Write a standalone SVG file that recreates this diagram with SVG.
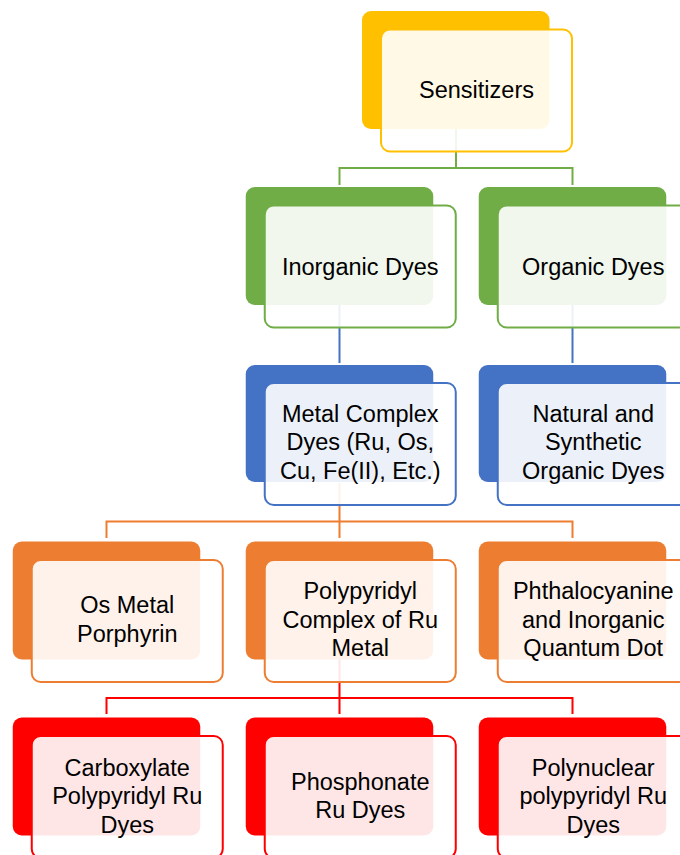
<svg xmlns="http://www.w3.org/2000/svg" width="680" height="855" viewBox="0 0 680 855">
<style>
.back{stroke:none}
.front{fill:#fff;fill-opacity:0.9;stroke-width:2}
.y .back{fill:#FFC000}.y .front{stroke:#FFC000}
.g .back{fill:#70AD47}.g .front{stroke:#70AD47}
.b .back{fill:#4472C4}.b .front{stroke:#4472C4}
.o .back{fill:#ED7D31}.o .front{stroke:#ED7D31}
.r .back{fill:#FF0000}.r .front{stroke:#FF0000}
text{font-family:"Liberation Sans",Arial,sans-serif;font-size:23.5px;fill:#000;text-anchor:middle}
.c{fill:none;stroke-width:2}
</style>
<rect width="680" height="855" fill="#fff"/>
<g id="connectors">
<path class="c" stroke="#70AD47" d="M456 129V168M339.5 168H572.5M339.5 167V185M572.5 167V185"/>
<path class="c" stroke="#4472C4" d="M339.5 305V363M572.5 305V363"/>
<path class="c" stroke="#ED7D31" d="M339.5 483V521.5M106.5 521.5H572.5M106.5 520.5V538M339.5 520.5V538M572.5 520.5V538"/>
<path class="c" stroke="#FF0000" stroke-width="2.5" d="M339.5 659V698M106.5 698H572.5M106.5 697V714M339.5 697V714M572.5 697V714"/>
</g>
<g id="sensitizers" class="y">
<rect class="back" x="362" y="11" width="187.5" height="118" rx="9"/>
<rect class="front" x="381" y="29.5" width="191" height="122" rx="9"/>
<text x="476.5" y="98">Sensitizers</text>
</g>
<g id="inorganic" class="g">
<rect class="back" x="245.75" y="187" width="187.5" height="118" rx="9"/>
<rect class="front" x="264.75" y="205.5" width="191" height="122" rx="9"/>
<text x="360.25" y="275">Inorganic Dyes</text>
</g>
<g id="organic" class="g">
<rect class="back" x="478.75" y="187" width="187.5" height="118" rx="9"/>
<rect class="front" x="497.75" y="205.5" width="191" height="122" rx="9"/>
<text x="593.25" y="275">Organic Dyes</text>
</g>
<g id="metal-complex" class="b">
<rect class="back" x="245.75" y="365" width="187.5" height="117" rx="9"/>
<rect class="front" x="264.75" y="383" width="191" height="122" rx="9"/>
<text x="360.25" y="421.5">Metal Complex</text>
<text x="360.25" y="450">Dyes (Ru, Os,</text>
<text x="360.25" y="478.5">Cu, Fe(II), Etc.)</text>
</g>
<g id="natural-synthetic" class="b">
<rect class="back" x="478.75" y="365" width="187.5" height="117" rx="9"/>
<rect class="front" x="497.75" y="383" width="191" height="122" rx="9"/>
<text x="593.25" y="421.5">Natural and</text>
<text x="593.25" y="450">Synthetic</text>
<text x="593.25" y="478.5">Organic Dyes</text>
</g>
<g id="os-porphyrin" class="o">
<rect class="back" x="12.75" y="541.5" width="187.5" height="118" rx="9"/>
<rect class="front" x="31.75" y="560" width="191" height="122" rx="9"/>
<text x="127.25" y="613">Os Metal</text>
<text x="127.25" y="641.5">Porphyrin</text>
</g>
<g id="polypyridyl-ru" class="o">
<rect class="back" x="245.75" y="541.5" width="187.5" height="118" rx="9"/>
<rect class="front" x="264.75" y="560" width="191" height="122" rx="9"/>
<text x="360.25" y="599">Polypyridyl</text>
<text x="360.25" y="627.5">Complex of Ru</text>
<text x="360.25" y="656">Metal</text>
</g>
<g id="phthalocyanine" class="o">
<rect class="back" x="478.75" y="541.5" width="187.5" height="118" rx="9"/>
<rect class="front" x="497.75" y="560" width="191" height="122" rx="9"/>
<text x="593.25" y="599">Phthalocyanine</text>
<text x="593.25" y="627.5">and Inorganic</text>
<text x="593.25" y="656">Quantum Dot</text>
</g>
<g id="carboxylate" class="r">
<rect class="back" x="12.75" y="717.5" width="187.5" height="118" rx="9"/>
<rect class="front" x="31.75" y="736" width="191" height="122" rx="9"/>
<text x="127.25" y="775.5">Carboxylate</text>
<text x="127.25" y="804">Polypyridyl Ru</text>
<text x="127.25" y="832.5">Dyes</text>
</g>
<g id="phosphonate" class="r">
<rect class="back" x="245.75" y="717.5" width="187.5" height="118" rx="9"/>
<rect class="front" x="264.75" y="736" width="191" height="122" rx="9"/>
<text x="360.25" y="789.5">Phosphonate</text>
<text x="360.25" y="818">Ru Dyes</text>
</g>
<g id="polynuclear" class="r">
<rect class="back" x="478.75" y="717.5" width="187.5" height="118" rx="9"/>
<rect class="front" x="497.75" y="736" width="191" height="122" rx="9"/>
<text x="593.25" y="775.5">Polynuclear</text>
<text x="593.25" y="804">polypyridyl Ru</text>
<text x="593.25" y="832.5">Dyes</text>
</g>
</svg>
